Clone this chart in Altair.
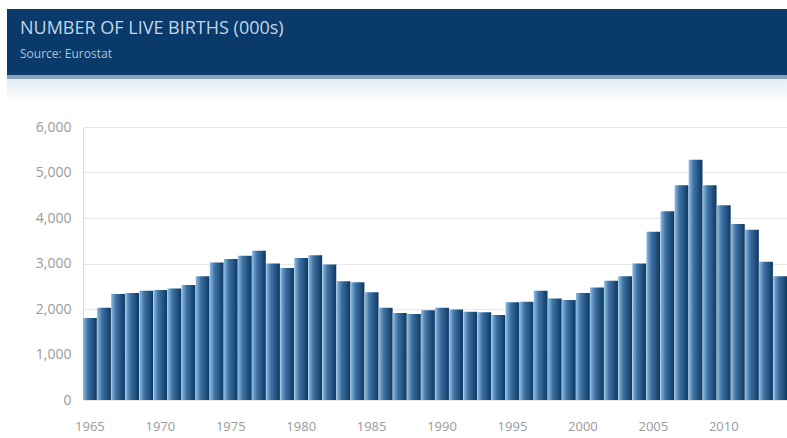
import altair as alt
import pandas as pd

years = list(range(1965, 2015))
values = [1800, 2030, 2330, 2350, 2400, 2420, 2450, 2530, 2720, 3020,
          3100, 3170, 3280, 3000, 2900, 3120, 3180, 2980, 2610, 2590,
          2370, 2030, 1910, 1890, 1970, 2030, 1990, 1940, 1930, 1870,
          2150, 2160, 2400, 2230, 2200, 2350, 2470, 2620, 2720, 3000,
          3700, 4150, 4720, 5280, 4720, 4280, 3870, 3740, 3040, 2720]
tick_years = [1965, 1970, 1975, 1980, 1985, 1990, 1995, 2000, 2005, 2010]
y_ticks = [0, 1000, 2000, 3000, 4000, 5000, 6000]
title_text = "NUMBER OF LIVE BIRTHS (000s)"
subtitle_text = "Source: Eurostat"

df = pd.DataFrame({"Year": years, "Value": values})
one = pd.DataFrame({"title": [title_text], "subtitle": [subtitle_text]})

# header band (decoration, drawn in the padding above the plot)
header_band = alt.Chart(one).mark_rect(color="#0a3a69").encode(
    x=alt.value(-76), x2=alt.value(720), y=alt.value(-118), y2=alt.value(-52)
)
header_edge = alt.Chart(one).mark_rect(color="#8ba3b9").encode(
    x=alt.value(-76), x2=alt.value(720), y=alt.value(-52), y2=alt.value(-48)
)
fade = alt.Gradient(
    gradient="linear",
    stops=[alt.GradientStop(color="#e2edf6", offset=0),
           alt.GradientStop(color="#ffffff", offset=1)],
    x1=0, x2=0, y1=0, y2=1,
)
header_fade = alt.Chart(one).mark_rect(color=fade).encode(
    x=alt.value(-76), x2=alt.value(720), y=alt.value(-48), y2=alt.value(-25)
)
title_mark = alt.Chart(one).mark_text(
    align="left", baseline="middle", font="Open Sans", fontSize=18, color="#c2d6ea"
).encode(x=alt.value(-63), y=alt.value(-98), text="title:N")
sub_mark = alt.Chart(one).mark_text(
    align="left", baseline="middle", font="Open Sans", fontSize=12, color="#a9c2da"
).encode(x=alt.value(-63), y=alt.value(-73), text="subtitle:N")

gradient = alt.Gradient(
    gradient="linear",
    stops=[
        alt.GradientStop(color="#8cbde4", offset=0),
        alt.GradientStop(color="#3f73a4", offset=0.35),
        alt.GradientStop(color="#0d3862", offset=1),
    ],
    x1=0, x2=1, y1=0, y2=0,
)

bars = alt.Chart(df).mark_bar(color=gradient).encode(
    x=alt.X(
        "Year:O",
        scale=alt.Scale(paddingInner=0.02, paddingOuter=0),
        axis=alt.Axis(values=tick_years, labelAngle=0, title=None, ticks=False,
                      domain=False, labelPadding=20, labelFontSize=13,
                      labelColor="#9a9a9a", labelFont="Open Sans", grid=False),
    ),
    y=alt.Y(
        "Value:Q",
        scale=alt.Scale(domain=[0, 6000]),
        axis=alt.Axis(values=y_ticks, format=",.0f", title=None, ticks=False,
                      domainColor="#d9d9d9", gridColor="#e8e8e8", labelFontSize=14,
                      labelColor="#9a9a9a", labelFont="Open Sans", labelPadding=12),
    ),
)

chart = alt.layer(header_band, header_edge, header_fade, title_mark, sub_mark, bars).properties(
    width=704, height=273,
    autosize=alt.AutoSizeParams(type="none"),
    padding={"left": 83, "top": 127, "right": 0, "bottom": 38},
    background="white",
).configure_view(strokeWidth=0)

chart.save("out.html", embed_options={"renderer": "svg", "actions": False})
